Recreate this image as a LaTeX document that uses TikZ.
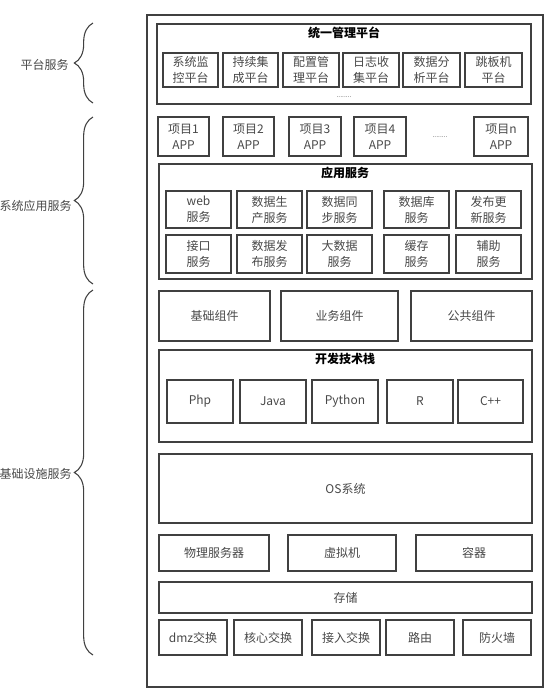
\documentclass[tikz,border=0pt]{standalone}
\usepackage{fontspec}
\setmainfont{Noto Sans CJK SC}
\usetikzlibrary{decorations.pathreplacing}

\definecolor{framegray}{HTML}{404040}
\definecolor{textgray}{HTML}{484848}

\tikzset{
  span/.style n args={4}{minimum width={(#3-#1)*0.75pt}, minimum height={(#4-#2)*0.75pt},
    at={({(#1+#3)/2},{(#2+#4)/2})}},
  cell/.style={draw=framegray, line width=0.9pt, inner sep=0pt, align=center,
    text=textgray, font=\fontsize{9}{12}\selectfont},
  panel/.style={draw=framegray, line width=0.9pt, inner sep=0pt},
  heading/.style={font=\fontsize{9}{12}\selectfont\bfseries, text=black, inner sep=0pt},
  side/.style={font=\fontsize{9}{12}\selectfont, text=textgray, inner sep=0pt, anchor=east},
  more/.style={font=\fontsize{5}{6}\selectfont, text=textgray, inner sep=0pt},
  bracket/.style={decorate, decoration={brace, amplitude=14pt}, draw=framegray, line width=0.8pt}
}

\begin{document}
\begin{tikzpicture}[x=0.75pt, y=-0.75pt]
  \useasboundingbox (0,0) rectangle (548,694);

  % outer frame
  \node[panel, span={147}{15}{543}{687}] (frame) {};

  % platform
  \node[panel, span={157}{24}{531}{104}] (platform) {};
  \node[heading] (platformtitle) at (344,33) {统一管理平台};
  \foreach \xa/\xb/\txt [count=\i] in {163/218/{系统监\\控平台}, 223/278/{持续集\\成平台},
      283/339/{配置管\\理平台}, 343/399/{日志收\\集平台}, 403/460/{数据分\\析平台}, 465/522/{跳板机\\平台}}
    \node[cell, span={\xa}{53}{\xb}{87}] (plat\i) {\txt};
  \node[more] (platmore) at (344,97) {........};

  % apps
  \foreach \xa/\xb/\n in {158/209/1, 223/274/2, 289/341/3, 354/406/4, 474/528/n}
    \node[cell, span={\xa}{117}{\xb}{156}] (app\n) {项目\n\\APP};
  \node[more] (appmore) at (440,137) {........};

  % application services
  \node[panel, span={159}{164}{532}{279}] (appsvc) {};
  \node[heading] (appsvctitle) at (345,173) {应用服务};
  \foreach \xa/\xb/\txt [count=\i] in {166/231/{web\\服务}, 237/302/{数据生\\产服务},
      307/372/{数据同\\步服务}, 384/449/{数据库\\服务}, 456/521/{发布更\\新服务}}
    \node[cell, span={\xa}{191}{\xb}{228}] (svca\i) {\txt};
  \foreach \xa/\xb/\txt [count=\i] in {166/231/{接口\\服务}, 237/302/{数据发\\布服务},
      307/372/{大数据\\服务}, 384/449/{缓存\\服务}, 456/521/{辅助\\服务}}
    \node[cell, span={\xa}{235}{\xb}{273}] (svcb\i) {\txt};

  % components
  \foreach \xa/\xb/\txt [count=\i] in {159/270/基础组件, 281/398/业务组件, 411/532/公共组件}
    \node[cell, span={\xa}{291}{\xb}{341}] (comp\i) {\txt};

  % tech stack
  \node[panel, span={159}{350}{532}{442}] (stack) {};
  \node[heading] (stacktitle) at (345,359) {开发技术栈};
  \foreach \xa/\xb/\txt [count=\i] in {167/233/Php, 240/306/Java, 312/378/Python, 387/453/R, 458/523/C++}
    \node[cell, span={\xa}{380}{\xb}{423}] (lang\i) {\txt};

  % os, hosts, storage, network
  \node[cell, span={159}{454}{532}{523}] (os) {OS系统};
  \foreach \xa/\xb/\txt [count=\i] in {159/269/物理服务器, 288/396/虚拟机, 416/532/容器}
    \node[cell, span={\xa}{535}{\xb}{571}] (host\i) {\txt};
  \node[cell, span={159}{582}{532}{613}] (storage) {存储};
  \foreach \xa/\xb/\txt [count=\i] in {159/227/dmz交换, 234/302/核心交换, 312/380/接入交换,
      386/454/路由, 463/531/防火墙}
    \node[cell, span={\xa}{620}{\xb}{655}] (net\i) {\txt};

  % side braces
  \draw[bracket] (93,103) -- (93,23);
  \draw[bracket] (93,284) -- (93,117);
  \draw[bracket] (93,655) -- (93,290);
  \node[side] (sideplat) at (69,65) {平台服务};
  \node[side] (sideapp) at (72,206) {系统应用服务};
  \node[side] (sideinfra) at (72,474) {基础设施服务};
\end{tikzpicture}
\end{document}
